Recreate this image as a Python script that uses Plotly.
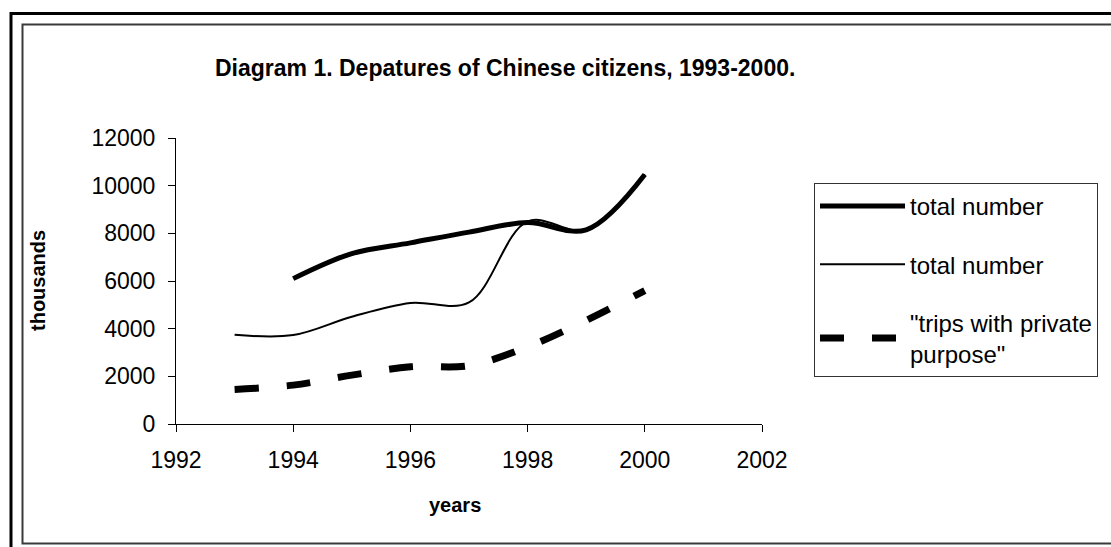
import plotly.graph_objects as go

# ---- data ----
years_total_thick = [1994, 1995, 1996, 1997, 1998, 1999, 2000]
total_thick = [6100, 7150, 7600, 8050, 8450, 8150, 10470]

years_total_thin = [1993, 1994, 1995, 1996, 1997, 1998, 1999, 2000]
total_thin = [3740, 3730, 4500, 5080, 5100, 8500, 8150, 10470]

years_private = [1993, 1994, 1995, 1996, 1997, 1998, 1999, 2000]
private_trips = [1450, 1630, 2050, 2400, 2450, 3240, 4350, 5600]

x_ticks = [1992, 1994, 1996, 1998, 2000, 2002]
y_ticks = [0, 2000, 4000, 6000, 8000, 10000, 12000]

FONT = "Liberation Sans, Arial, sans-serif"

# plot-area geometry in pixels (used to convert frame positions to paper coords)
W, H = 1111, 547
L, R, T, B = 176, 762, 138, 424
PW, PH = R - L, B - T


def px(xp):
    return (xp - L) / PW


def py(yp):
    return (B - yp) / PH


fig = go.Figure()

fig.add_trace(go.Scatter(
    x=years_total_thick, y=total_thick, name="total number",
    mode="lines", line=dict(color="black", width=5, shape="spline", smoothing=1.0),
    legendgroup="a",
))
fig.add_trace(go.Scatter(
    x=years_total_thin, y=total_thin, name="total number",
    mode="lines", line=dict(color="black", width=2, shape="spline", smoothing=1.0),
    legendgroup="b",
))
fig.add_trace(go.Scatter(
    x=years_private, y=private_trips, name="\"trips with private<br>purpose\"",
    mode="lines", line=dict(color="black", width=7, shape="spline", smoothing=1.0,
                            dash="24px,28px"),
    legendgroup="c",
))

axis_common = dict(
    showgrid=False, zeroline=False, showline=True, linecolor="black", linewidth=1,
    ticks="outside", tickcolor="black", tickwidth=1, ticklen=7,
    tickfont=dict(family=FONT, size=23, color="black"),
)

fig.update_xaxes(range=[1992, 2002], tickvals=x_ticks,
                 ticktext=[str(v) for v in x_ticks], ticklabelstandoff=8, **axis_common)
fig.update_yaxes(range=[0, 12000], tickvals=y_ticks,
                 ticktext=[str(v) for v in y_ticks], ticklabelstandoff=8, **axis_common)

shapes = [
    # outer frame
    dict(type="rect", xref="paper", yref="paper",
         x0=px(11), x1=px(1120), y0=py(13.5), y1=py(560),
         line=dict(color="black", width=3)),
    # inner frame
    dict(type="rect", xref="paper", yref="paper",
         x0=px(22.5), x1=px(1120), y0=py(24.5), y1=py(543.5),
         line=dict(color="#3a3a3a", width=2)),
]

annotations = [
    dict(text="<b>Diagram 1. Depatures of Chinese citizens, 1993-2000.</b>",
         xref="paper", yref="paper", x=px(505), y=py(68), showarrow=False,
         xanchor="center", yanchor="middle",
         font=dict(family=FONT, size=23, color="black")),
    dict(text="<b>thousands</b>", xref="paper", yref="paper",
         x=px(38), y=py(281), showarrow=False, textangle=-90,
         xanchor="center", yanchor="middle",
         font=dict(family=FONT, size=20, color="black")),
    dict(text="<b>years</b>", xref="paper", yref="paper",
         x=px(455), y=py(505), showarrow=False,
         xanchor="center", yanchor="middle",
         font=dict(family=FONT, size=20, color="black")),
]

fig.update_layout(
    width=W, height=H, autosize=False,
    margin=dict(l=L, r=W - R, t=T, b=H - B, pad=0),
    paper_bgcolor="white", plot_bgcolor="white",
    shapes=shapes, annotations=annotations,
    showlegend=True,
    legend=dict(
        x=px(814), y=py(183), xanchor="left", yanchor="top",
        bordercolor="#333333", borderwidth=1, bgcolor="white",
        font=dict(family=FONT, size=24, color="black"),
        itemwidth=85, tracegroupgap=24, traceorder="grouped",
    ),
)

fig.write_html("out.html")
